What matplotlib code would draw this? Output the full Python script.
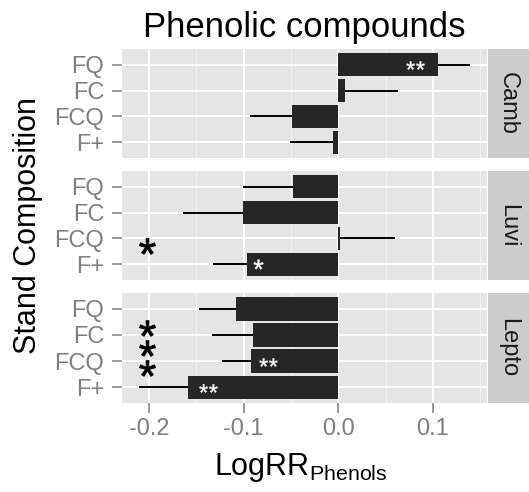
import numpy as np
import matplotlib
matplotlib.use("Agg")
import matplotlib.pyplot as plt

# -----------------------------
# Data
# -----------------------------
sites = ["Camb", "Luvi", "Lepto"]
stands = ["F+", "FCQ", "FC", "FQ"]          # bottom -> top

camb_mean = [-0.0053, -0.0493, 0.0071, 0.1058]
camb_se = [0.0458, 0.0441, 0.0557, 0.0332]
luvi_mean = [-0.0969, 0.0015, -0.1011, -0.0482]
luvi_se = [0.0353, 0.0585, 0.0635, 0.0523]
lepto_mean = [-0.1593, -0.0927, -0.0906, -0.1085]
lepto_se = [0.0515, 0.0306, 0.0427, 0.0385]

means = [camb_mean, luvi_mean, lepto_mean]
ses = [camb_se, luvi_se, lepto_se]

# significance labels inside bars (white) and on the left (black)
inner_site = [0, 1, 2, 2]
inner_x = [0.081, -0.085, -0.074, -0.138]
inner_y = [3.97, 1.0, 1.95, 0.97]
inner_lab = ["**", "*", "**", "**"]

outer_site = [1, 2, 2, 2]
outer_x = [-0.2025, -0.2025, -0.2025, -0.2025]
outer_y = [1.72, 3.28, 2.49, 1.72]

# -----------------------------
# Style (old ggplot2 grey theme)
# -----------------------------
plt.rcParams["font.family"] = ["Liberation Sans", "DejaVu Sans"]
plt.rcParams["mathtext.fontset"] = "custom"
plt.rcParams["mathtext.rm"] = "Liberation Sans"
plt.rcParams["mathtext.bf"] = "Liberation Sans:bold"
plt.rcParams["axes.unicode_minus"] = False

W, H = 529, 492
fig = plt.figure(figsize=(W / 100, H / 100), dpi=100, facecolor="white")

px_l, px_r = 121.7, 486.7
panels_px = [(49, 158), (171, 280), (293, 403)]
strip_r = 528.5

xlim = (-0.2291, 0.1570)
ylim = (0.4, 4.6)
ypos = np.arange(1, len(stands) + 1)

for i, site in enumerate(sites):
    top, bot = panels_px[i]
    ax = fig.add_axes([px_l / W, 1 - bot / H, (px_r - px_l) / W, (bot - top) / H])
    ax.set_facecolor("#E5E5E5")
    for s in ax.spines.values():
        s.set_visible(False)

    ax.set_xlim(*xlim)
    ax.set_ylim(*ylim)
    ax.set_xticks([-0.2, -0.1, 0.0, 0.1])
    ax.set_xticks([-0.15, -0.05, 0.05, 0.15], minor=True)
    ax.set_yticks(ypos)
    ax.set_yticklabels(stands)
    ax.grid(True, which="major", color="white", linewidth=1.4)
    ax.grid(True, which="minor", axis="x", color="#F2F2F2", linewidth=0.8)
    ax.set_axisbelow(True)

    ax.tick_params(axis="both", which="major", length=7, width=1.1,
                   color="#7F7F7F", labelcolor="#7F7F7F", labelsize=17)
    ax.tick_params(axis="x", which="major", pad=4)
    ax.tick_params(axis="y", which="major", pad=5.5)
    ax.tick_params(axis="x", which="minor", length=0)
    if i < 2:
        ax.tick_params(axis="x", which="major", labelbottom=False, length=0)

    m = np.array(means[i])
    se = np.array(ses[i])
    ends = m + np.sign(m) * se
    ax.hlines(ypos, m, ends, color="black", linewidth=1.4, zorder=2)
    ax.barh(ypos, m, height=0.9, color="#262626", zorder=3)

    for k in range(len(inner_site)):
        if inner_site[k] == i:
            lab = "*\\!*" if inner_lab[k] == "**" else "*"
            size = 13 if inner_lab[k] == "**" else 7
            ax.plot(inner_x[k], inner_y[k], marker="$\\mathregular{%s}$" % lab,
                    ms=size, color="white", mew=0.3, mec="white", zorder=4)
    for k in range(len(outer_site)):
        if outer_site[k] == i:
            ax.plot(outer_x[k], outer_y[k], marker="$\\mathregular{*}$",
                    ms=11.5, color="black", mew=0.6, zorder=4)

    # facet strip
    sax = fig.add_axes([(px_r + 0.8) / W, 1 - bot / H, (strip_r - px_r - 0.8) / W, (bot - top) / H])
    sax.set_facecolor("#CCCCCC")
    sax.set_xticks([])
    sax.set_yticks([])
    for s in sax.spines.values():
        s.set_visible(False)
    sax.text(0.5, 0.5, site, rotation=-90, ha="center", va="center",
             fontsize=17, color="#1A1A1A", transform=sax.transAxes)

# titles and axis labels
fig.text(304 / W, 1 - 37 / H, "Phenolic compounds", ha="center", va="baseline",
         fontsize=25, color="black")
fig.text(301 / W, 1 - 475 / H, "$\\mathregular{LogRR_{Phenols}}$", ha="center",
         va="baseline", fontsize=22, color="black")
fig.text(28 / W, 1 - 225 / H, "Stand Composition", rotation=90, ha="center",
         va="center", fontsize=22, color="black")

fig.savefig("out.png", dpi=100, facecolor="white")
